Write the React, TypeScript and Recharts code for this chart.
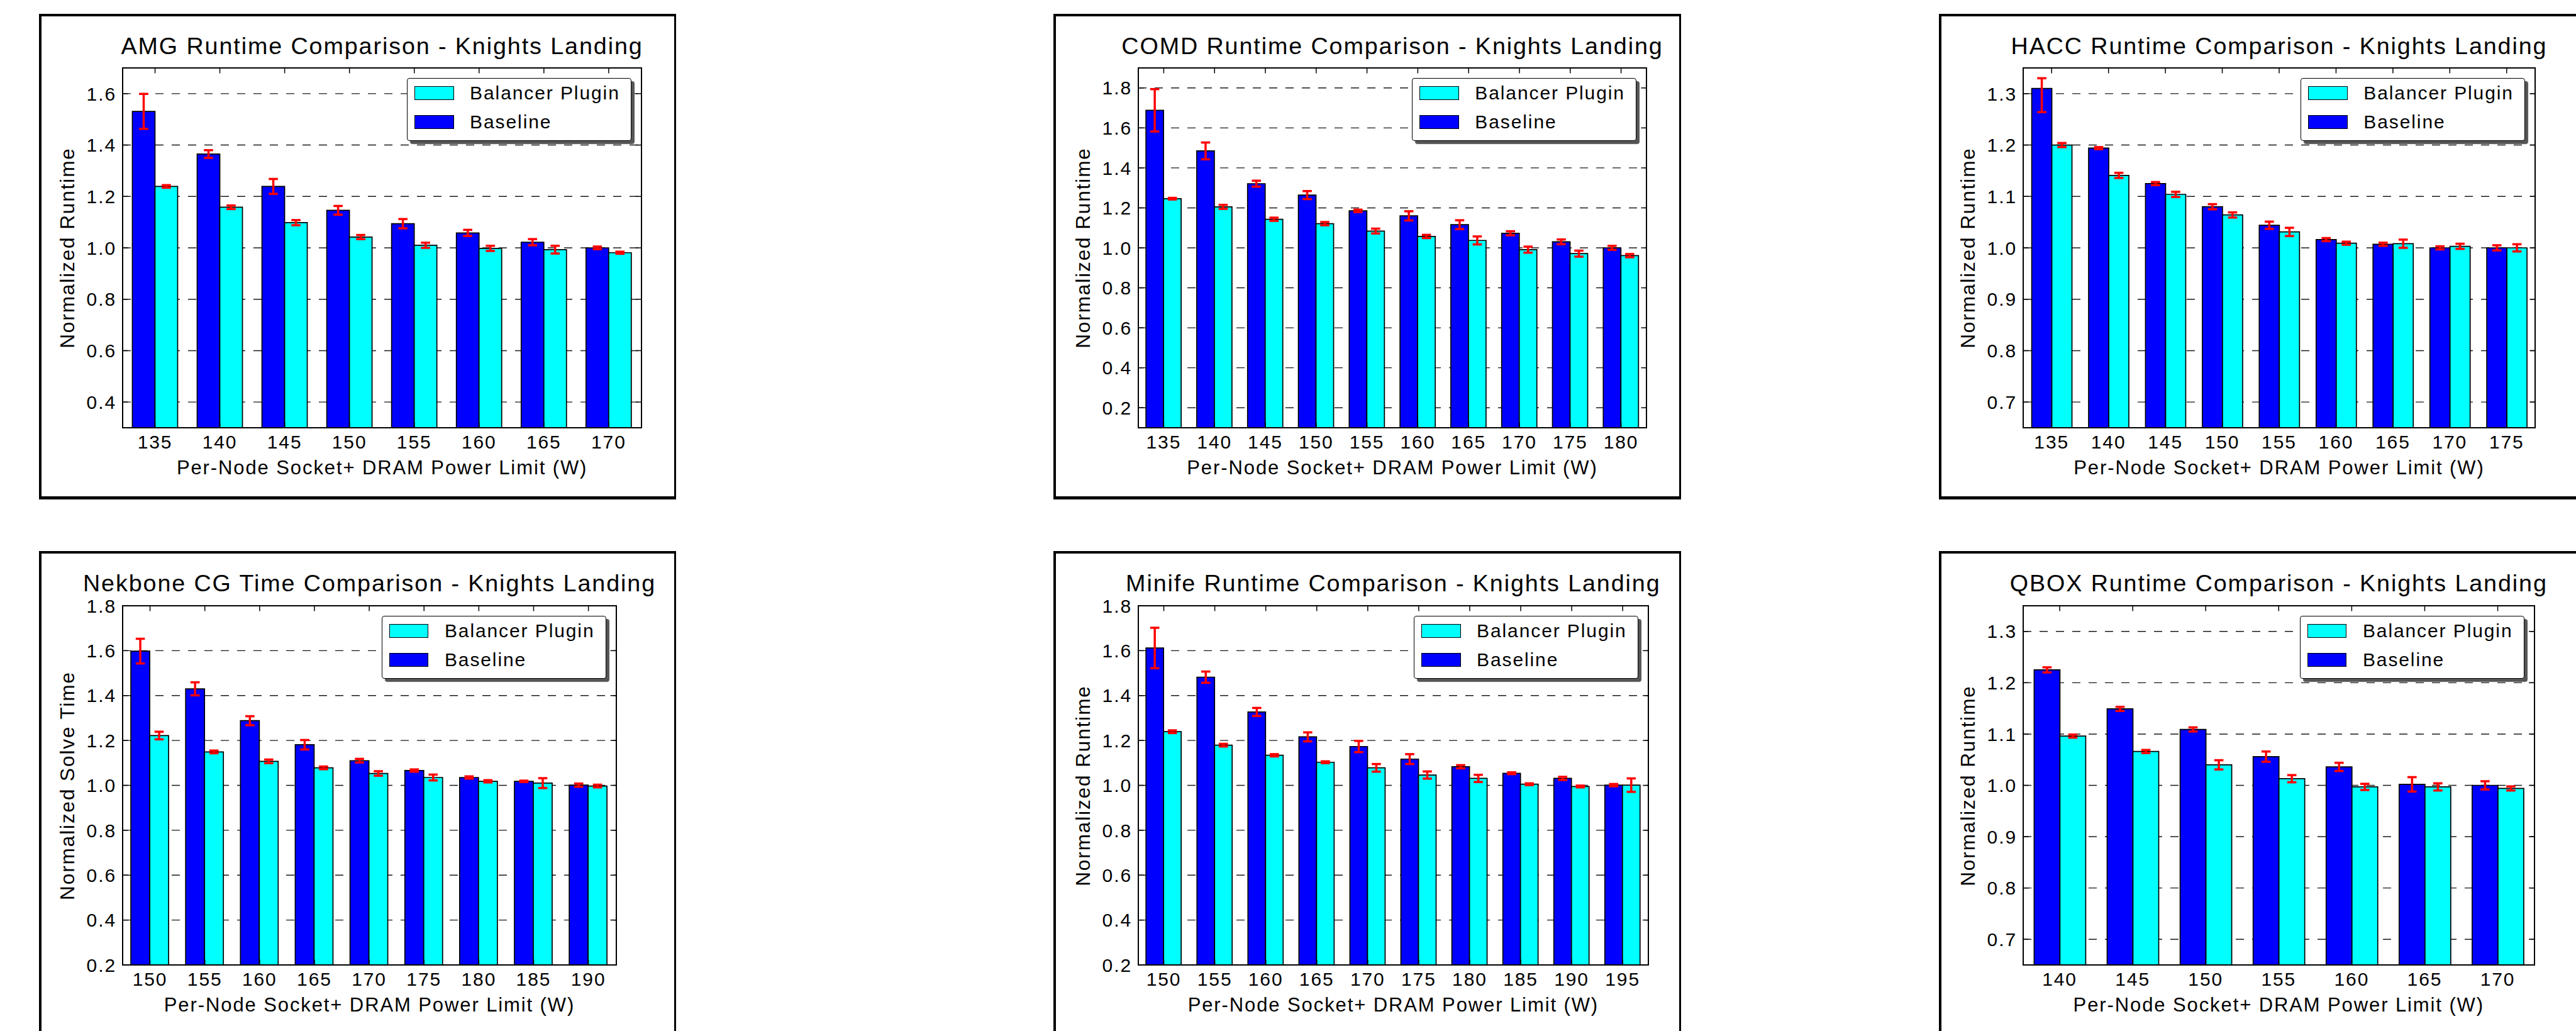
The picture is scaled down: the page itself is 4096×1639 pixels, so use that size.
import React from "react";
import { BarChart, Bar, XAxis, YAxis, CartesianGrid, ErrorBar } from "recharts";

const FONT = '"Liberation Sans", Arial, Helvetica, sans-serif';
const BLUE = "#0000ff";
const CYAN = "#00ffff";
const RED = "#ff0000";
const TRACK = 1.9; // letter spacing of the reference text
const TICK = 8.5;

type Err = number | [number, number];

// ---- AMG ----
const amgPower = [135, 140, 145, 150, 155, 160, 165, 170];
const amgBaseline = [1.531, 1.365, 1.239, 1.146, 1.094, 1.058, 1.022, 1.0];
const amgBaselineErr: Err[] = [0.068, 0.015, 0.029, 0.017, 0.018, 0.012, 0.012, 0.005];
const amgBalancer = [1.239, 1.158, 1.098, 1.042, 1.01, 0.998, 0.993, 0.981];
const amgBalancerErr: Err[] = [0.005, 0.007, 0.01, 0.008, 0.01, 0.01, 0.015, 0.004];

// ---- COMD ----
const comdPower = [135, 140, 145, 150, 155, 160, 165, 170, 175, 180];
const comdBaseline = [1.688, 1.485, 1.321, 1.264, 1.185, 1.16, 1.116, 1.073, 1.03, 1.0];
const comdBaselineErr: Err[] = [0.106, 0.042, 0.015, 0.02, 0.006, 0.023, 0.022, 0.01, 0.012, 0.01];
const comdBalancer = [1.246, 1.205, 1.143, 1.121, 1.084, 1.057, 1.037, 0.991, 0.971, 0.961];
const comdBalancerErr: Err[] = [0.004, 0.01, 0.008, 0.008, 0.012, 0.008, 0.02, 0.015, 0.015, 0.008];

// ---- HACC ----
const haccPower = [135, 140, 145, 150, 155, 160, 165, 170, 175];
const haccBaseline = [1.31, 1.194, 1.125, 1.08, 1.044, 1.016, 1.007, 1.0, 1.0];
const haccBaselineErr: Err[] = [[0.046, 0.02], 0.002, 0.003, 0.005, 0.007, 0.003, 0.003, 0.003, 0.005];
const haccBalancer = [1.2, 1.141, 1.104, 1.064, 1.031, 1.009, 1.008, 1.003, 1.0];
const haccBalancerErr: Err[] = [0.004, 0.005, 0.005, 0.005, 0.008, 0.003, 0.008, 0.005, 0.007];

// ---- Nekbone ----
const nekPower = [150, 155, 160, 165, 170, 175, 180, 185, 190];
const nekBaseline = [1.598, 1.43, 1.288, 1.181, 1.11, 1.066, 1.035, 1.018, 1.001];
const nekBaselineErr: Err[] = [0.055, 0.029, 0.02, 0.021, 0.008, 0.005, 0.005, 0.003, 0.007];
const nekBalancer = [1.222, 1.149, 1.107, 1.078, 1.053, 1.035, 1.018, 1.01, 0.997];
const nekBalancerErr: Err[] = [0.017, 0.006, 0.008, 0.006, 0.01, 0.013, 0.005, 0.022, 0.006];

// ---- Minife ----
const minifePower = [150, 155, 160, 165, 170, 175, 180, 185, 190, 195];
const minifeBaseline = [1.612, 1.482, 1.327, 1.216, 1.173, 1.117, 1.083, 1.054, 1.031, 1.001];
const minifeBaselineErr: Err[] = [0.09, 0.025, 0.018, 0.02, 0.025, 0.022, 0.007, 0.004, 0.007, 0.005];
const minifeBalancer = [1.239, 1.179, 1.134, 1.103, 1.078, 1.046, 1.031, 1.005, 0.995, 1.001];
const minifeBalancerErr: Err[] = [0.006, 0.006, 0.005, 0.004, 0.017, 0.016, 0.016, 0.004, 0.004, 0.03];

// ---- QBOX ----
const qboxPower = [140, 145, 150, 155, 160, 165, 170];
const qboxBaseline = [1.225, 1.149, 1.109, 1.056, 1.036, 1.002, 1.0];
const qboxBaselineErr: Err[] = [0.005, 0.004, 0.004, 0.01, 0.008, 0.014, 0.008];
const qboxBalancer = [1.096, 1.066, 1.04, 1.013, 0.997, 0.997, 0.994];
const qboxBalancerErr: Err[] = [0.003, 0.003, 0.009, 0.007, 0.006, 0.007, 0.004];

// ---- y axes ----
const ticksWide = [0.2, 0.4, 0.6, 0.8, 1.0, 1.2, 1.4, 1.6, 1.8];
const ticksAmg = [0.4, 0.6, 0.8, 1.0, 1.2, 1.4, 1.6];
const ticksNarrow = [0.7, 0.8, 0.9, 1.0, 1.1, 1.2, 1.3];

const ROWS = [
  { boxT: 22, boxB: 794, plotT: 108, plotB: 680, titleY: 74, xLabelY: 743 },
  { boxT: 876, boxB: 1700, plotT: 963, plotB: 1534, titleY: 928, xLabelY: 1597 },
];
const COLS = [
  { boxL: 62, boxR: 1075 },
  { boxL: 1675, boxR: 2673 },
  { boxL: 3083, boxR: 4200 },
];

type PanelProps = {
  title: string;
  yLabel: string;
  power: number[];
  baseline: number[];
  baselineErr: Err[];
  balancer: number[];
  balancerErr: Err[];
  domain: [number, number];
  yTicks: number[];
  row: number;
  col: number;
  plotL: number;
  plotR: number;
};

const textStyle: React.CSSProperties = {
  position: "absolute",
  fontFamily: FONT,
  letterSpacing: TRACK,
  color: "#000",
  whiteSpace: "nowrap",
  lineHeight: 1,
};

function Legend({ right, top }: { right: number; top: number }) {
  const w = 357;
  const items = [
    { name: "Balancer Plugin", color: CYAN, y: 14.3 },
    { name: "Baseline", color: BLUE, y: 60 },
  ];
  return (
    <div
      style={{
        position: "absolute",
        left: right - w,
        top,
        width: w,
        height: 100,
        boxSizing: "border-box",
        border: "1.7px solid #000",
        borderRadius: 4,
        background: "#fff",
        boxShadow: "5px 5px 1px #555",
      }}
    >
      {items.map((it) => (
        <React.Fragment key={it.name}>
          <div
            style={{
              position: "absolute",
              left: 11,
              top: it.y - 2,
              width: 62.6,
              height: 22,
              boxSizing: "border-box",
              border: "1.5px solid #000",
              background: it.color,
            }}
          />
          <div
            style={{
              ...textStyle,
              fontSize: 30,
              left: 99,
              top: it.y - 2 + 11,
              transform: "translateY(-50%)",
            }}
          >
            {it.name}
          </div>
        </React.Fragment>
      ))}
    </div>
  );
}

function Panel(p: PanelProps) {
  const r = ROWS[p.row];
  const c = COLS[p.col];
  const data = p.power.map((w, i) => ({
    power: String(w),
    baseline: p.baseline[i],
    baselineErr: p.baselineErr[i],
    balancer: p.balancer[i],
    balancerErr: p.balancerErr[i],
  }));
  const plotW = p.plotR - p.plotL;
  const plotH = r.plotB - r.plotT;
  const PAD_L = 110;
  const PAD_T = 30;
  const PAD_R = 20;
  const X_H = 70;
  const chartW = plotW + PAD_L + PAD_R;
  const chartH = plotH + PAD_T + X_H + 10;

  const xTick = (props: any) => {
    const { x, payload } = props;
    return (
      <g>
        <line x1={x} x2={x} y1={PAD_T + plotH} y2={PAD_T + plotH - TICK} stroke="#000" strokeWidth={1.5} />
        <line x1={x} x2={x} y1={PAD_T} y2={PAD_T + TICK} stroke="#000" strokeWidth={1.5} />
        <text
          x={x}
          y={PAD_T + plotH + 22}
          dy="0.355em"
          textAnchor="middle"
          fontFamily={FONT}
          fontSize={30}
          letterSpacing={TRACK}
          fill="#000"
        >
          {payload.value}
        </text>
      </g>
    );
  };

  const yTick = (props: any) => {
    const { y, payload } = props;
    return (
      <g>
        <line x1={PAD_L} x2={PAD_L + TICK} y1={y} y2={y} stroke="#000" strokeWidth={1.5} />
        <line x1={PAD_L + plotW - TICK} x2={PAD_L + plotW} y1={y} y2={y} stroke="#000" strokeWidth={1.5} />
        <text
          x={PAD_L - 10}
          y={y}
          dy="0.355em"
          textAnchor="end"
          fontFamily={FONT}
          fontSize={30}
          letterSpacing={TRACK}
          fill="#000"
        >
          {Number(payload.value).toFixed(1)}
        </text>
      </g>
    );
  };

  return (
    <>
      <div
        style={{
          position: "absolute",
          left: c.boxL,
          top: r.boxT,
          width: c.boxR - c.boxL,
          height: r.boxB - r.boxT,
          boxSizing: "border-box",
          borderStyle: "solid",
          borderColor: "#000",
          borderWidth: "4px 3px 5px 4.5px",
          background: "#fff",
        }}
      />
      <div
        style={{
          ...textStyle,
          fontSize: 37.7,
          left: (p.plotL + p.plotR) / 2,
          top: r.titleY,
          transform: "translate(-50%, -50%)",
        }}
      >
        {p.title}
      </div>
      <div style={{ position: "absolute", left: p.plotL - PAD_L, top: r.plotT - PAD_T }}>
        <BarChart
          width={chartW}
          height={chartH}
          data={data}
          margin={{ top: PAD_T, right: PAD_R, bottom: 10, left: 10 }}
          barCategoryGap="15%"
          barGap={0}
        >
          <CartesianGrid vertical={false} stroke="#1a1a1a" strokeWidth={1.4} strokeDasharray="13 13" />
          <XAxis
            dataKey="power"
            height={X_H}
            axisLine={false}
            tickLine={false}
            interval={0}
            tick={xTick}
          />
          <YAxis
            width={PAD_L - 10}
            domain={p.domain}
            ticks={p.yTicks}
            allowDataOverflow
            axisLine={false}
            tickLine={false}
            tick={yTick}
          />
          <Bar dataKey="baseline" fill={BLUE} stroke="#000" strokeWidth={1.7} isAnimationActive={false}>
            <ErrorBar dataKey="baselineErr" width={7.3} strokeWidth={3.5} stroke={RED} isAnimationActive={false} />
          </Bar>
          <Bar dataKey="balancer" fill={CYAN} stroke="#000" strokeWidth={1.7} isAnimationActive={false}>
            <ErrorBar dataKey="balancerErr" width={7.3} strokeWidth={3.5} stroke={RED} isAnimationActive={false} />
          </Bar>
        </BarChart>
      </div>
      <div
        style={{
          position: "absolute",
          left: p.plotL - 1,
          top: r.plotT - 1,
          width: plotW + 2,
          height: plotH + 2,
          boxSizing: "border-box",
          border: "2px solid #000",
          pointerEvents: "none",
        }}
      />
      <Legend right={p.plotR - 15.7} top={r.plotT + 16} />
      <div
        style={{
          ...textStyle,
          fontSize: 31,
          left: (p.plotL + p.plotR) / 2,
          top: r.xLabelY,
          transform: "translate(-50%, -50%)",
        }}
      >
        Per-Node Socket+ DRAM Power Limit (W)
      </div>
      <div
        style={{
          ...textStyle,
          fontSize: 31.5,
          left: p.plotL - 87.4,
          top: (r.plotT + r.plotB) / 2,
          transform: "translate(-50%, -50%) rotate(-90deg)",
        }}
      >
        {p.yLabel}
      </div>
    </>
  );
}

export default function App() {
  return (
    <div
      style={{
        position: "absolute",
        left: 0,
        top: 0,
        width: 4096,
        height: 1639,
        overflow: "hidden",
        background: "#fff",
      }}
    >
      <Panel
        title="AMG Runtime Comparison - Knights Landing"
        yLabel="Normalized Runtime"
        power={amgPower}
        baseline={amgBaseline}
        baselineErr={amgBaselineErr}
        balancer={amgBalancer}
        balancerErr={amgBalancerErr}
        domain={[0.3, 1.7]}
        yTicks={ticksAmg}
        row={0}
        col={0}
        plotL={195.4}
        plotR={1019.8}
      />
      <Panel
        title="COMD Runtime Comparison - Knights Landing"
        yLabel="Normalized Runtime"
        power={comdPower}
        baseline={comdBaseline}
        baselineErr={comdBaselineErr}
        balancer={comdBalancer}
        balancerErr={comdBalancerErr}
        domain={[0.1, 1.9]}
        yTicks={ticksWide}
        row={0}
        col={1}
        plotL={1810}
        plotR={2618}
      />
      <Panel
        title="HACC Runtime Comparison - Knights Landing"
        yLabel="Normalized Runtime"
        power={haccPower}
        baseline={haccBaseline}
        baselineErr={haccBaselineErr}
        balancer={haccBalancer}
        balancerErr={haccBalancerErr}
        domain={[0.65, 1.35]}
        yTicks={ticksNarrow}
        row={0}
        col={2}
        plotL={3217}
        plotR={4031}
      />
      <Panel
        title="Nekbone CG Time Comparison - Knights Landing"
        yLabel="Normalized Solve Time"
        power={nekPower}
        baseline={nekBaseline}
        baselineErr={nekBaselineErr}
        balancer={nekBalancer}
        balancerErr={nekBalancerErr}
        domain={[0.2, 1.8]}
        yTicks={ticksWide}
        row={1}
        col={0}
        plotL={195.4}
        plotR={979.6}
      />
      <Panel
        title="Minife Runtime Comparison - Knights Landing"
        yLabel="Normalized Runtime"
        power={minifePower}
        baseline={minifeBaseline}
        baselineErr={minifeBaselineErr}
        balancer={minifeBalancer}
        balancerErr={minifeBalancerErr}
        domain={[0.2, 1.8]}
        yTicks={ticksWide}
        row={1}
        col={1}
        plotL={1810}
        plotR={2620.7}
      />
      <Panel
        title="QBOX Runtime Comparison - Knights Landing"
        yLabel="Normalized Runtime"
        power={qboxPower}
        baseline={qboxBaseline}
        baselineErr={qboxBaselineErr}
        balancer={qboxBalancer}
        balancerErr={qboxBalancerErr}
        domain={[0.65, 1.35]}
        yTicks={ticksNarrow}
        row={1}
        col={2}
        plotL={3217}
        plotR={4029.6}
      />
    </div>
  );
}
